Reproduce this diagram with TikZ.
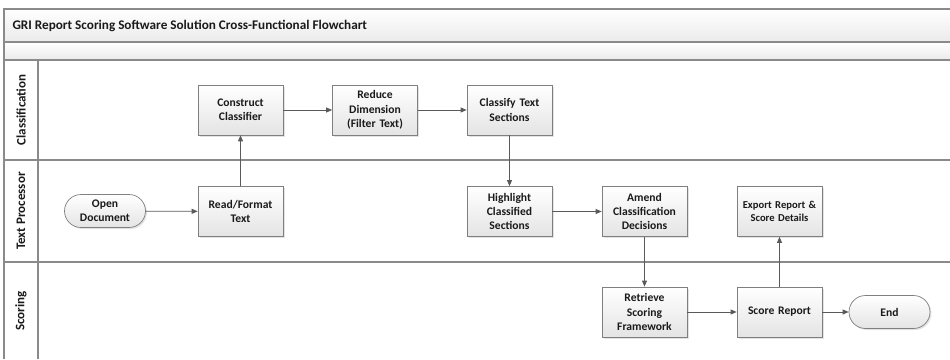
\documentclass[tikz,border=0pt]{standalone}
\usepackage{fontspec}
\setmainfont{Carlito}
\usetikzlibrary{arrows.meta,shadows,shapes.misc}

\definecolor{boxgray}{HTML}{7F7F7F}
\definecolor{boxfill}{HTML}{E4E4E4}
\definecolor{lanegray}{HTML}{8A8A8A}
\definecolor{arrowgray}{HTML}{5A5A5A}
\definecolor{textgray}{HTML}{1A1A1A}

\tikzset{
  proc/.style={draw=boxgray, line width=0.7pt, top color=white, bottom color=boxfill,
    drop shadow={shadow xshift=1.5pt, shadow yshift=-1.5pt, fill=black!22},
    minimum width=85pt, minimum height=50pt, text width=81pt, inner sep=2pt,
    align=center, text=textgray, font=\fontsize{11.6}{14.2}\selectfont\bfseries},
  term/.style={proc, rounded rectangle, minimum height=33pt, text width=70pt},
  flow/.style={draw=arrowgray, line width=0.8pt, -{Triangle[length=6pt,width=5pt]}},
  lane/.style={draw=lanegray, line width=1.2pt},
  lanelabel/.style={rotate=90, text=textgray, font=\fontsize{13}{15}\selectfont\bfseries},
}

\begin{document}
\begin{tikzpicture}[x=1pt,y=-1pt]

    % Page size
    \useasboundingbox (0,0) rectangle (950,359);

    % Header bands
    \shade[top color=white, bottom color=black!8] (4,9) rectangle (950,42);
    \shade[top color=white, bottom color=black!8] (4,42) rectangle (950,60);
    \node[anchor=west, text=textgray, font=\fontsize{13.2}{15}\selectfont\bfseries] (title) at (9,25.5)
      {GRI Report Scoring Software Solution Cross-Functional Flowchart};

    % Frame and lanes
    \draw[lane] (950,9) -- (4,9) -- (4,359);
    \draw[lane] (4,42) -- (950,42);
    \draw[lane] (4,60) -- (950,60);
    \draw[lane] (4,160) -- (950,160);
    \draw[lane] (4,262) -- (950,262);
    \draw[lane] (38,60) -- (38,359);

    % Lane labels
    \node[lanelabel] (lclass) at (21,110) {Classification};
    \node[lanelabel] (ltext) at (21,211) {Text Processor};
    \node[lanelabel] (lscore) at (21,311) {Scoring};

    % Steps
    \node[term] (open) at (105,211) {Open\\Document};
    \node[proc] (read) at (240.5,211.5) {Read/Format\\Text};
    \node[proc] (construct) at (240.5,110) {Construct\\Classifier};
    \node[proc] (reduce) at (375,110) {Reduce\\Dimension\\(Filter Text)};
    \node[proc] (classify) at (509.5,110) {Classify Text\\Sections};
    \node[proc] (highlight) at (509.5,211.5) {Highlight\\Classified\\Sections};
    \node[proc] (amend) at (644.5,211.5) {Amend\\Classification\\Decisions};
    \node[proc, font=\fontsize{10.6}{13}\selectfont\bfseries] (export) at (779.5,211.5) {Export Report \&\\Score Details};
    \node[proc] (retrieve) at (644.5,312) {Retrieve\\Scoring\\Framework};
    \node[proc] (score) at (779.5,312) {Score Report};
    \node[term] (end) at (889.5,312) {End};

    % Connectors
    \draw[flow] (open) -- (read);
    \draw[flow] (read) -- (construct);
    \draw[flow] (construct) -- (reduce);
    \draw[flow] (reduce) -- (classify);
    \draw[flow] (classify) -- (highlight);
    \draw[flow] (highlight) -- (amend);
    \draw[flow] (amend) -- (retrieve);
    \draw[flow] (retrieve) -- (score);
    \draw[flow] (score) -- (export);
    \draw[flow] (score) -- (end);

\end{tikzpicture}
\end{document}
